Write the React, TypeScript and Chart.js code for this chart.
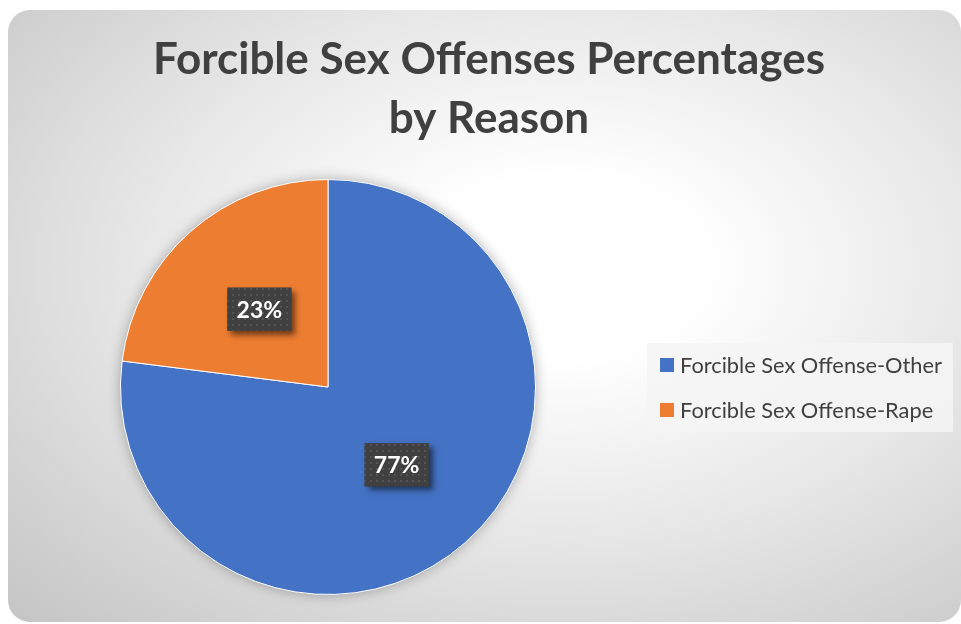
import React, { useEffect, useRef } from "react";
import { Chart, registerables } from "chart.js";

Chart.register(...registerables);

const titleLines = ["Forcible Sex Offenses Percentages", "by Reason"];
const categories = ["Forcible Sex Offense-Other", "Forcible Sex Offense-Rape"];
const values = [77, 23];
const valueLabels = ["77%", "23%"];
const colors = ["#4472C4", "#ED7D31"];

const W = 953;
const H = 612;

function makePattern(ctx: CanvasRenderingContext2D) {
  const c = document.createElement("canvas");
  c.width = 6;
  c.height = 6;
  const p = c.getContext("2d")!;
  p.fillStyle = "#404040";
  p.fillRect(0, 0, 6, 6);
  p.fillStyle = "#545454";
  p.fillRect(2, 2, 2, 2);
  return ctx.createPattern(c, "repeat");
}

const shadowPlugin = {
  id: "pieShadow",
  beforeDatasetsDraw(chart: any) {
    const arc = chart.getDatasetMeta(0).data[0];
    if (!arc) return;
    const ctx = chart.ctx;
    ctx.save();
    ctx.shadowColor = "rgba(0,0,0,0.35)";
    ctx.shadowBlur = 14;
    ctx.fillStyle = "#888";
    ctx.beginPath();
    ctx.arc(arc.x, arc.y, arc.outerRadius - 1, 0, Math.PI * 2);
    ctx.fill();
    ctx.restore();
  },
};

const decorPlugin = {
  id: "decor",
  afterDraw(chart: any) {
    const ctx: CanvasRenderingContext2D = chart.ctx;
    // Title
    ctx.save();
    ctx.fillStyle = "#404040";
    ctx.font = "bold 44px Lato";
    ctx.textAlign = "center";
    ctx.textBaseline = "middle";
    titleLines.forEach((t, i) => ctx.fillText(t, 481, 50 + i * 59));
    ctx.restore();

    // Data labels
    const meta = chart.getDatasetMeta(0);
    const pattern = makePattern(ctx);
    meta.data.forEach((arc: any, i: number) => {
      const pos = arc.tooltipPosition();
      const bw = 64;
      const bh = 43;
      const x = pos.x - bw / 2;
      const y = pos.y - bh / 2;
      ctx.save();
      ctx.shadowColor = "rgba(0,0,0,0.55)";
      ctx.shadowBlur = 6;
      ctx.shadowOffsetX = 4;
      ctx.shadowOffsetY = 4;
      ctx.fillStyle = "#404040";
      ctx.fillRect(x, y, bw, bh);
      ctx.restore();
      ctx.save();
      ctx.fillStyle = pattern || "#404040";
      ctx.fillRect(x, y, bw, bh);
      ctx.fillStyle = "#ffffff";
      ctx.font = "bold 23px Lato";
      ctx.textAlign = "center";
      ctx.textBaseline = "middle";
      ctx.fillText(valueLabels[i], pos.x, pos.y + 1);
      ctx.restore();
    });

    // Legend
    ctx.save();
    ctx.fillStyle = "rgba(245,245,245,0.85)";
    ctx.fillRect(639, 333, 306, 89);
    ctx.font = "21.8px Lato";
    ctx.textBaseline = "middle";
    ctx.textAlign = "left";
    chart.data.labels.forEach((lab: string, i: number) => {
      const cy = 355 + i * 45;
      ctx.fillStyle = chart.data.datasets[0].backgroundColor[i];
      ctx.fillRect(652, cy - 7, 14, 14);
      ctx.fillStyle = "#404040";
      ctx.fillText(lab, 672, cy + 1);
    });
    ctx.restore();
  },
};

export default function App() {
  const ref = useRef<HTMLCanvasElement>(null);
  useEffect(() => {
    if (!ref.current) return;
    const chart = new Chart(ref.current, {
      type: "pie",
      data: {
        labels: categories,
        datasets: [
          {
            data: values,
            backgroundColor: colors,
            borderColor: "#ffffff",
            borderWidth: 1,
          },
        ],
      },
      options: {
        animation: false,
        responsive: false,
        devicePixelRatio: 1,
        layout: { padding: { left: 112, top: 169, right: 425, bottom: 27 } },
        plugins: {
          legend: { display: false },
          title: { display: false },
          tooltip: { enabled: false },
        },
      },
      plugins: [shadowPlugin, decorPlugin],
    });
    return () => chart.destroy();
  }, []);

  return (
    <div
      style={{
        position: "fixed",
        left: 8,
        top: 10,
        width: W,
        height: H,
        borderRadius: 22,
        overflow: "hidden",
        background:
          "radial-gradient(ellipse farthest-corner at 58% 42%, #ffffff 0%, #ffffff 18%, #e6e6e6 55%, #c4c4c4 100%)",
      }}
    >
      <canvas ref={ref} width={W} height={H} style={{ display: "block" }} />
    </div>
  );
}
